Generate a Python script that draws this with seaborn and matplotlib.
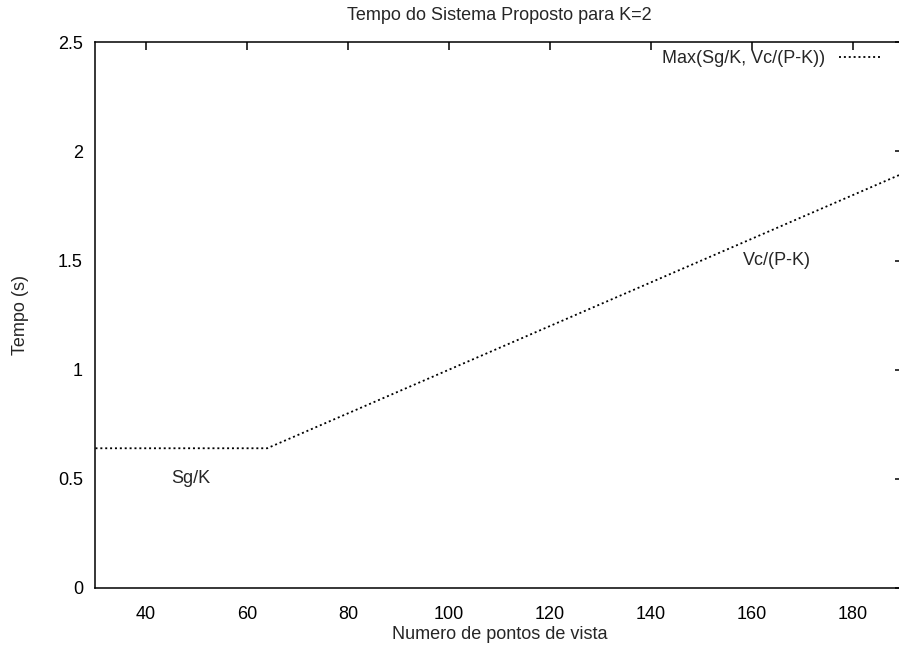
import numpy as np
import pandas as pd
from matplotlib import pyplot as plt
import seaborn as sns

# values
pontos = [30, 64, 190]
tempo = [0.64, 0.64, 1.90]
x_ticks = [40, 60, 80, 100, 120, 140, 160, 180]
y_ticks = [0, 0.5, 1, 1.5, 2, 2.5]
y_tick_labels = ['0', '0.5', '1', '1.5', '2', '2.5']

sns.set_style('white')
plt.rcParams['font.family'] = ['Liberation Sans', 'DejaVu Sans']
plt.rcParams['font.size'] = 13

data = pd.DataFrame({'pontos': pontos, 'tempo': tempo})

fig = plt.figure(figsize=(8.99, 6.49), dpi=100)
# right edge of the plot sits just past the image border, as in the original
ax = fig.add_axes([0.1062, 0.094, 0.8988, 0.841])

sns.lineplot(x='pontos', y='tempo', data=data, ax=ax, color='black',
             linewidth=1.3, linestyle=(0, (1.1, 1.6)),
             label='Max(Sg/K, Vc/(P-K))')

ax.set_xlim(30, 190)
ax.set_ylim(0, 2.5)
ax.set_xticks(x_ticks)
ax.set_yticks(y_ticks)
ax.set_yticklabels(y_tick_labels)
ax.tick_params(direction='in', length=6, width=1.1, top=True, right=True,
               labelsize=13, colors='black')
ax.tick_params(axis='x', pad=13)
ax.tick_params(axis='y', pad=9)
for side in ax.spines.values():
    side.set_color('black')
    side.set_linewidth(1.1)

ax.set_xlabel('Numero de pontos de vista', fontsize=13, labelpad=2)
ax.set_ylabel('Tempo (s)', fontsize=13, labelpad=21)
ax.set_title('Tempo do Sistema Proposto para K=2', fontsize=13, pad=16)

ax.text(48.9, 0.5, 'Sg/K', ha='center', va='center', fontsize=13)
ax.text(164.95, 1.50, 'Vc/(P-K)', ha='center', va='center', fontsize=13)

ax.legend(loc='upper right', bbox_to_anchor=(0.974, 0.986), frameon=False,
          markerfirst=False, fontsize=13, handlelength=2.4,
          handletextpad=0.8, borderpad=0, borderaxespad=0)

plt.savefig('out.png', dpi=100)
